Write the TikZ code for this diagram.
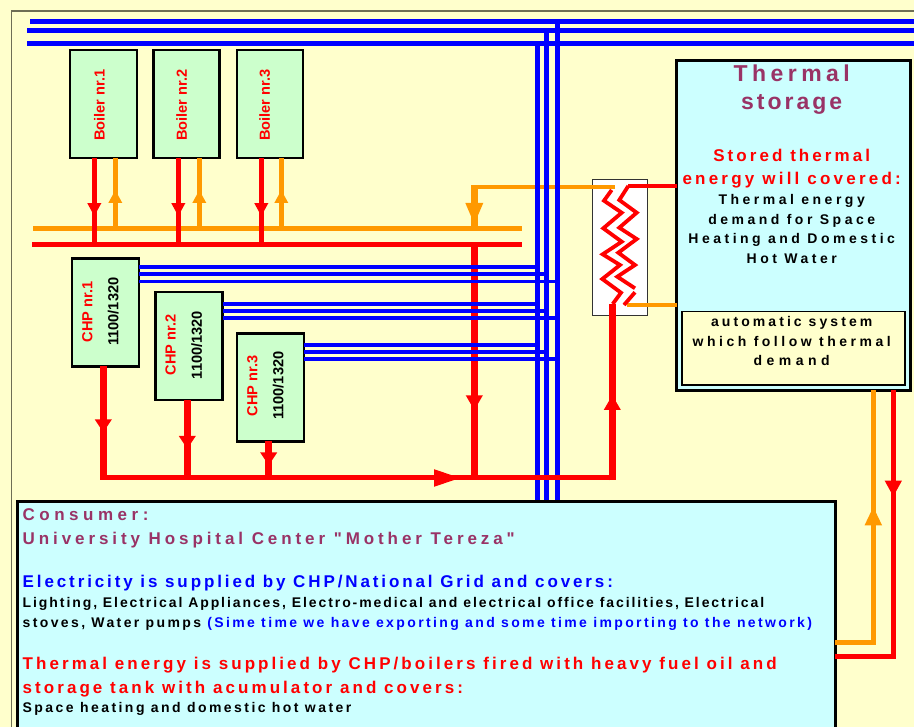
\documentclass[tikz,border=0pt]{standalone}
\usepackage{fontspec}
\setmainfont{Liberation Sans}[Ligatures=TeXOff]
\usetikzlibrary{arrows.meta,decorations.markings}
\definecolor{paper}{HTML}{FFFFCC}
\definecolor{frameink}{HTML}{6E6E55}
\definecolor{leaf}{HTML}{CCFFCC}
\definecolor{aqua}{HTML}{CCFFFF}
\definecolor{plum}{HTML}{993366}
\definecolor{hot}{HTML}{FF0000}
\definecolor{warm}{HTML}{FF9900}
\definecolor{volt}{HTML}{0000FF}
\newcommand{\ls}[1]{\addfontfeature{LetterSpace=#1}}
\tikzset{
  unit/.style={draw=black,line width=2.5pt,fill=leaf,inner sep=0pt,outer sep=0pt,anchor=north west,minimum width=67pt,minimum height=108pt},
  tank/.style={draw=black,line width=3pt,fill=aqua,inner sep=0pt,outer sep=0pt,anchor=north west},
  tag/.style={rotate=90,inner sep=0pt,font=\fontsize{14.6}{16}\selectfont\bfseries,text=hot},
  rating/.style={tag,text=black},
  txt/.style={inner sep=0pt,anchor=base west,align=left},
  txtc/.style={txt,align=center,anchor=base},
  hred/.style={color=hot,line width=5pt},
  hredw/.style={color=hot,line width=7pt},
  hora/.style={color=warm,line width=4.5pt},
  wire/.style={color=volt,line width=5pt},
  wiret/.style={color=volt,line width=3.8pt},
  coil/.style={color=hot,line width=3.8pt},
  flow/.style 2 args={postaction=decorate,decoration={markings,mark=at position #1 with {\arrow{Triangle[length=#2,width=16pt]}}}},
  smallhead/.style={postaction=decorate,decoration={markings,mark=at position #1 with {\arrow{Triangle[length=13pt,width=13pt]}}}},
  ttlf/.style={font=\fontsize{23}{28.3}\selectfont\bfseries},
  subf/.style={font=\fontsize{17}{22.6}\selectfont\bfseries},
  hdgf/.style={font=\fontsize{17}{24}\selectfont\bfseries},
  bdyf/.style={font=\fontsize{14}{19.6}\selectfont\bfseries},
}
\begin{document}
\begin{tikzpicture}[x=1pt,y=-1pt]
  \clip (0,0) rectangle (914,727);
  \fill[paper] (0,0) rectangle (914,727);
  \draw[frameink,line width=1.7pt] (11.5,727) -- (11.5,10.7) -- (914,10.7);

  % hot water returns and feeds
  \coordinate (obl) at (33,228.5);
  \coordinate (obr) at (522,228.5);
  \coordinate (rbl) at (32,244.3);
  \coordinate (rbr) at (522,244.3);
  \coordinate (rlow) at (100,478);
  \coordinate (rup) at (615.8,478);
  \draw[hora] (obl) -- (obr);
  \draw[hred] (rbl) -- (rbr);

  % heat exchanger
  \node[draw=black!80,line width=1pt,fill=white,inner sep=0pt,outer sep=0pt,anchor=north west,minimum width=54.6pt,minimum height=135.7pt] (hx) at (592.7,180) {};

  % thermal storage
  \node[tank,minimum width=233.7pt,minimum height=329.4pt] (store) at (676.5,60.8) {};
  \node[draw=black,line width=1.2pt,fill=paper,inner sep=0pt,outer sep=0pt,anchor=north west,minimum width=223pt,minimum height=73.3pt] (auto) at (682,311.7) {};

  % pipes at the exchanger
  \coordinate (hxin) at (474.3,187);
  \coordinate (hxo) at (615,187);
  \coordinate (obus) at (474.3,228.5);
  \draw[hora] (hxo) -- (470.8,187);
  \draw[hora,line width=7pt,flow={38pt}{22pt}] (hxin) -- (obus);
  \draw[hora,line width=4pt] (626.7,304.7) coordinate (hxb) -- (hxb -| store.west);
  \draw[hred,line width=4pt] (628.3,186) coordinate (hxt) -- (hxt -| store.west);
  \draw[coil] (611.7,190) -- (604,200.7) -- (621.7,212.7) -- (603.3,228.3) -- (621.7,241.7) -- (602.7,254.3) -- (620,265) -- (602.3,279) -- (621,292.7) -- (612.7,304);
  \draw[coil] (hxt) -- (619.3,200) -- (636.7,212.7) -- (619.3,227.7) -- (636.7,239) -- (618.3,252.7) -- (635,265) -- (617.3,276.7) -- (635,288.3);
  \draw[coil] (635,292.3) -- (624,305);

  % red verticals
  \coordinate (rbus) at (474.3,244.3);
  \coordinate (rjoin) at (474.3,480.5);
  \draw[hredw,flow={166pt}{15pt}] (rbus) -- (rjoin);
  \coordinate (hxlow) at (612.3,304);
  \draw[hredw,flow={85.5pt}{15pt}] (612.3,480.5) coordinate (rfoot) -- (hxlow);

  % electricity
  \coordinate (elA) at (30,21.4);
  \coordinate (elB) at (27,30.8);
  \coordinate (elC) at (27,43.3);
  \coordinate (vA) at (537.4,43.3);
  \coordinate (vB) at (546.5,30.8);
  \coordinate (vC) at (557.2,21.4);
  \draw[wire] (elA) -- (914,21.4);
  \draw[wire] (elB) -- (914,30.8);
  \draw[wire] (elC) -- (914,43.3);
  \draw[wire] (vA) -- (537.4,502);
  \draw[wire] (vB) -- (546.5,502);
  \draw[wire] (vC) -- (557.2,502);

  % boilers
  \foreach \n/\x/\w/\t/\r/\o in {1/70.2/67/99.3/94.3/115.3,2/153.5/66/181.7/178.3/199.3,3/236.8/66/264.7/261.3/281.3} {
    \node[unit,minimum width=\w pt] (boil\n) at (\x,50.2) {};
    \node[tag] (boiltag\n) at (\t,105) {Boiler nr.\n};
    \coordinate (bfeed\n) at (\r,244.3);
    \coordinate (bret\n) at (\o,228.5);
    \draw[hred,smallhead=58pt] (boil\n.south -| bfeed\n) -- (bfeed\n);
    \draw[hora,smallhead=38.5pt] (bret\n) -- (boil\n.south -| bret\n);
  }

  % chp units
  \foreach \n/\x/\y/\t/\s/\u/\l/\h/\a/\b/\c in {1/72/258.5/87.3/113.3/103.3/311.7/66/266.7/273.7/281.5,2/155.5/292/170.7/196.7/187.3/345/49/304/310.7/317.7,3/237/333.5/252.3/278.3/268.7/385.7/24/345/351.7/359} {
    \node[unit] (chp\n) at (\x,\y) {};
    \node[tag] (chptag\n) at (\t,\l) {CHP nr.\n};
    \node[rating] (chprate\n) at (\s,\l) {1100/1320};
    \coordinate (cfoot\n) at (\u,480.5);
    \draw[hredw,flow={\h pt}{13pt}] (chp\n.south -| cfoot\n) -- (cfoot\n);
    \draw[wiret] (chp\n.east |- 0,\a) coordinate (wa\n) -- (wa\n -| vA);
    \draw[wiret] (chp\n.east |- 0,\b) coordinate (wb\n) -- (wb\n -| vB);
    \draw[wiret] (chp\n.east |- 0,\c) coordinate (wc\n) -- (wc\n -| vC);
  }

  % collector under the chp units
  \draw[hred,flow={361pt}{27pt}] (rlow) -- (rup);

  % consumer
  \node[tank,minimum width=817.7pt,minimum height=260pt] (cons) at (17.5,501.5) {};
  \coordinate (cO) at (873.3,642.3);
  \coordinate (cR) at (893.3,656.7);
  \draw[hora,line width=5pt,flow={174pt}{19pt}] (cons.east |- cO) -- (cO) -- (cO |- store.south);
  \draw[hred,flow={106.5pt}{16pt}] (cR |- store.south) -- (cR) -- (cons.east |- cR);

  % texts
  \node[txtc,ttlf,text=plum] (stt) at (791.7,110) {\ls{19.5}Thermal\\\ls{13}storage};
  \node[txtc,subf,text=hot] (ssub) at (791.7,184.3) {\ls{18}Stored thermal\\\ls{19}energy will covered:};
  \node[txtc,bdyf] (sbody) at (791.7,263.3) {\ls{25}Thermal energy\\\ls{25}demand for Space\\\ls{25}Heating and Domestic\\\ls{25}Hot Water};
  \node[txtc,bdyf] (atxt) at (791.7,366) {\ls{22}automatic system\\\ls{25}which follow thermal\\\ls{32}demand};
  \node[txt,hdgf,text=plum] (ctitle) at (22.5,544) {\ls{26.5}Consumer:\\\ls{23}University Hospital Center "Mother Tereza"};
  \node[txt,hdgf,text=volt] (cel) at (22.5,587.7) {\ls{17}Electricity is supplied by CHP/National Grid and covers:};
  \node[txt,bdyf] (cbody) at (22.5,627) {\ls{13.7}Lighting, Electrical Appliances, Electro-medical and electrical office facilities, Electrical\\\ls{17}stoves, Water pumps {\color{volt}(Sime time we have exporting and some time importing to the network)}};
  \node[txt,hdgf,text=hot] (cth) at (22.5,693) {\ls{18}Thermal energy is supplied by CHP/boilers fired with heavy fuel oil and\\\ls{18}storage tank with acumulator and covers:};
  \node[txt,bdyf] (csp) at (22.5,712.7) {\ls{17.5}Space heating and domestic hot water};
\end{tikzpicture}
\end{document}
